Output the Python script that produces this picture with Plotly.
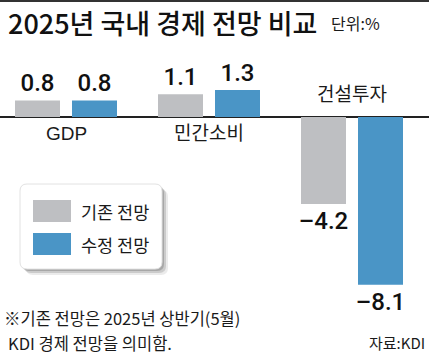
import plotly.graph_objects as go

# ---- data ----
categories = ["GDP", "민간소비", "건설투자"]
base_forecast = [0.8, 1.1, -4.2]      # 기존 전망
revised_forecast = [0.8, 1.3, -8.1]   # 수정 전망
series_names = ["기존 전망", "수정 전망"]
title_text = "2025년 국내 경제 전망 비교"
unit_text = "단위:%"
note_lines = ["※기존 전망은 2025년 상반기(5월)", "KDI 경제 전망을 의미함."]
source_text = "자료:KDI"

# ---- layout constants (pixels) ----
W, H = 429, 355
TOP, BOT = 60, 300          # plot area top/bottom in px
ZERO_PX = 117               # y pixel of zero line
SCALE = 20.7                # px per unit
CAT0_PX, CAT_STEP = 66, 143
BAR_W = 45
GRAY = "#BEBFC2"
BLUE = "#4A95C6"
TXT = "#1a1a1a"
NUM_FONT = "Roboto, Liberation Sans, Noto Sans CJK KR"
CAT_FONT = "Liberation Sans Narrow, Liberation Sans, Noto Sans CJK KR"
KR_FONT = "Noto Sans CJK KR"

y_max = (ZERO_PX - TOP) / SCALE
y_min = -(BOT - ZERO_PX) / SCALE
x_lo = -CAT0_PX / CAT_STEP
x_hi = (W - CAT0_PX) / CAT_STEP


def px(x):
    return x / W


def py(y):
    return (BOT - y) / (BOT - TOP)


def fmt(v):
    return f"{v:.1f}".replace("-", "–")


xs = list(range(len(categories)))
fig = go.Figure()
for vals, name, color, off in [
    (base_forecast, series_names[0], GRAY, -51),
    (revised_forecast, series_names[1], BLUE, 6),
]:
    fig.add_trace(go.Bar(
        x=xs, y=vals, name=name, marker=dict(color=color, line=dict(width=0)),
        width=BAR_W / CAT_STEP, offset=off / CAT_STEP,
        text=[fmt(v) for v in vals], textposition="outside",
        textfont=dict(family=NUM_FONT, size=24, color="#111", weight=500),
        constraintext="none", cliponaxis=False, showlegend=False,
        hoverinfo="skip",
    ))

fig.update_layout(
    width=W, height=H, barmode="overlay",
    margin=dict(l=0, r=0, t=TOP, b=H - BOT, pad=0),
    paper_bgcolor="white", plot_bgcolor="white",
    xaxis=dict(range=[x_lo, x_hi], visible=False, fixedrange=True),
    yaxis=dict(range=[y_min, y_max], showgrid=False, showticklabels=False,
               zeroline=True, zerolinecolor="#222", zerolinewidth=1.5,
               fixedrange=True),
    uniformtext=dict(mode=False),
)

annotations = []
shapes = []

# top border
shapes.append(dict(type="line", xref="paper", yref="paper", x0=0, x1=1,
                   y0=py(1), y1=py(1), line=dict(color="#333", width=2)))

# category labels
for i, c in enumerate(categories):
    neg = min(base_forecast[i], revised_forecast[i]) < 0
    annotations.append(dict(
        x=i, y=0, xref="x", yref="y", text=c, showarrow=False,
        yanchor="middle", yshift=23 if neg else -16,
        font=dict(family=CAT_FONT, size=19, color=TXT)))

# title + unit
annotations.append(dict(x=px(6), y=py(22.5), xref="paper", yref="paper",
                        text=title_text, showarrow=False, xanchor="left",
                        yanchor="middle",
                        font=dict(family=KR_FONT, size=27, color="#111",
                                  weight=500)))
annotations.append(dict(x=px(329), y=py(23), xref="paper", yref="paper",
                        text=unit_text, showarrow=False, xanchor="left",
                        yanchor="middle",
                        font=dict(family=KR_FONT, size=16, color=TXT)))


def rrect(x0, y0, x1, y1, r):
    p = [
        f"M{px(x0 + r)},{py(y0)}", f"L{px(x1 - r)},{py(y0)}",
        f"Q{px(x1)},{py(y0)} {px(x1)},{py(y0 + r)}",
        f"L{px(x1)},{py(y1 - r)}",
        f"Q{px(x1)},{py(y1)} {px(x1 - r)},{py(y1)}",
        f"L{px(x0 + r)},{py(y1)}",
        f"Q{px(x0)},{py(y1)} {px(x0)},{py(y1 - r)}",
        f"L{px(x0)},{py(y0 + r)}",
        f"Q{px(x0)},{py(y0)} {px(x0 + r)},{py(y0)}", "Z",
    ]
    return " ".join(p)


# legend box with shadow
for d, op in [(6, 0.10), (4, 0.18), (2, 0.25)]:
    shapes.append(dict(type="path", xref="paper", yref="paper",
                       path=rrect(20 + d, 184 + d, 162 + d, 269 + d, 7),
                       fillcolor=f"rgba(60,60,60,{op})", line=dict(width=0)))
shapes.append(dict(type="path", xref="paper", yref="paper",
                   path=rrect(20, 184, 162, 269, 7),
                   fillcolor="white", line=dict(color="#e2e2e2", width=1)))
for (y0, y1), name, color in [((200, 222), series_names[0], GRAY),
                              ((233, 255), series_names[1], BLUE)]:
    shapes.append(dict(type="rect", xref="paper", yref="paper",
                       x0=px(33), x1=px(71), y0=py(y1), y1=py(y0),
                       fillcolor=color, line=dict(width=0)))
    annotations.append(dict(x=px(79), y=py((y0 + y1) / 2), xref="paper",
                            yref="paper", text=name, showarrow=False,
                            xanchor="left", yanchor="middle",
                            font=dict(family=KR_FONT, size=17.5, color=TXT)))

# footnote + source
annotations.append(dict(x=px(2), y=py(318), xref="paper", yref="paper",
                        text=note_lines[0], showarrow=False, xanchor="left",
                        yanchor="middle",
                        font=dict(family=KR_FONT, size=16.5, color=TXT)))
annotations.append(dict(x=px(6), y=py(343), xref="paper", yref="paper",
                        text=note_lines[1], showarrow=False, xanchor="left",
                        yanchor="middle",
                        font=dict(family=KR_FONT, size=16.5, color=TXT)))
annotations.append(dict(x=px(427), y=py(342), xref="paper", yref="paper",
                        text=source_text, showarrow=False, xanchor="right",
                        yanchor="middle",
                        font=dict(family=KR_FONT, size=15, color=TXT)))

fig.update_layout(annotations=annotations, shapes=shapes)
fig.write_html("out.html",
               config={"displayModeBar": False, "staticPlot": True},
               post_script="document.body.style.margin='0';"
                           "document.body.style.overflow='hidden';")
